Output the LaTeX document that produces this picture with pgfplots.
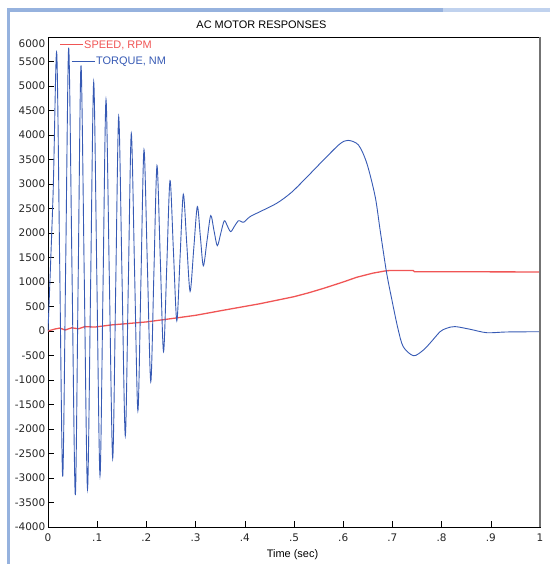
\documentclass[border=0pt]{standalone}
\usepackage{fontspec}
\setmainfont{Liberation Sans}
\newfontfamily\numfont{DejaVu Sans}
\usepackage{pgfplots}
\pgfplotsset{compat=1.18}

\definecolor{torque}{RGB}{55,90,180}
\definecolor{speed}{RGB}{240,85,85}
\definecolor{winframe}{RGB}{150,178,222}
\definecolor{winframelight}{RGB}{192,210,238}

\newcommand{\lblfont}{\fontsize{11}{13}\selectfont}
\newcommand{\tickfont}{\numfont\fontsize{10.5}{12.5}\selectfont}

\begin{document}
\begin{tikzpicture}[x=1bp,y=1bp]
\path[use as bounding box] (-48,-37) rectangle (502,527);
% window frame around the plot panel
\fill[winframe] (-40.5,-37) rectangle (-37.5,519);
\fill[winframe] (-40.5,515) rectangle (395,519);
\fill[winframelight] (395,515) rectangle (502,519);

\begin{axis}[
  at={(0,0)}, anchor=south west,
  scale only axis, width=492bp, height=490bp,
  xmin=0, xmax=1, ymin=-4000, ymax=6000,
  xtick={0,0.1,0.2,0.3,0.4,0.5,0.6,0.7,0.8,0.9,1},
  xticklabels={0,.1,.2,.3,.4,.5,.6,.7,.8,.9,1},
  ytick={-4000,-3500,-3000,-2500,-2000,-1500,-1000,-500,0,500,1000,1500,2000,2500,3000,3500,4000,4500,5000,5500,6000},
  yticklabels={-4000,-3500,-3000,-2500,-2000,-1500,-1000,-500,0,500,1000,1500,2000,2500,3000,3500,4000,4500,5000,5500,{}},
  tick align=inside,
  xtick pos=bottom, ytick pos=left,
  major tick length=6bp,
  tick style={black, line width=0.6bp},
  axis line style={black, line width=0.8bp},
  ticklabel style={font=\tickfont, text=black!85},
  y tick label style={inner sep=2.5bp},
  x tick label style={yshift=-3bp},
  clip=true,
]
% rotor speed
\addplot[speed, line width=1.3bp, sharp plot] coordinates {
(0,0) (0.014,40) (0.024,60) (0.035,20) (0.048,65) (0.062,45) (0.075,90)
(0.095,80) (0.13,125) (0.16,150) (0.2,185) (0.23,225) (0.26,265) (0.3,320)
(0.36,430) (0.43,555) (0.5,700) (0.53,780) (0.56,870) (0.6,1000)
(0.627,1095) (0.66,1180) (0.685,1225) (0.695,1235) (0.742,1235)
(0.745,1210) (1.0,1205)
};
% electromagnetic torque
\addplot[torque, line width=0.9bp, smooth] coordinates {
(0,0) (0.0104,2820)
(0.0177,5680) (0.0238,1355) (0.0299,-2970) (0.0360,1405)
(0.0421,5780) (0.0488,1215) (0.0555,-3350) (0.0613,1035)
(0.0671,5420) (0.0737,1098) (0.0803,-3225) (0.0866,928)
(0.0929,5080) (0.0993,1063) (0.1057,-2955) (0.1118,883)
(0.1179,4720) (0.1247,1060) (0.1315,-2600) (0.1376,888)
(0.1437,4375) (0.1504,1118) (0.1571,-2140) (0.1632,945)
(0.1693,4030) (0.1760,1202) (0.1827,-1627) (0.1889,1037)
(0.1951,3700) (0.2020,1333) (0.2089,-1035) (0.2152,1170)
(0.2215,3375) (0.2282,1477) (0.2348,-422) (0.2414,1324)
(0.2480,3070) (0.2549,1640) (0.2618,210) (0.2684,1500)
(0.2750,2790) (0.2819,1800) (0.2888,810) (0.2962,1675)
(0.3035,2540) (0.3096,1935) (0.3157,1330) (0.3232,1843)
(0.3307,2355) (0.3374,2048) (0.3441,1741) (0.3512,1996)
(0.3583,2250) (0.3648,2139) (0.3713,2027) (0.3791,2139)
(0.3868,2250) (0.3924,2235) (0.3980,2220)
(0.4106,2333) (0.4309,2435) (0.4648,2606) (0.4950,2830)
(0.5300,3180) (0.5600,3490) (0.5930,3816) (0.6100,3890)
(0.6310,3796) (0.6480,3422) (0.6650,2741) (0.6750,2061)
(0.6880,1200) (0.6990,633) (0.7110,60) (0.7220,-320)
(0.7430,-505) (0.7630,-388) (0.7780,-230) (0.7970,-14)
(0.8100,55) (0.8270,90) (0.8580,35) (0.8920,-35)
(0.9320,-20) (1.0000,-15)
};
\end{axis}

% right edge of the plot box
\draw[black!55, line width=1.6bp] (492,0) -- (492,490);
% top tick label sits just inside the box
\node[anchor=east, font=\tickfont, text=black!85, inner sep=2.5bp] at (0,483) {6000};

% title and axis label
\node[anchor=base, font=\lblfont] at (213.5,498.7) {AC MOTOR RESPONSES};
\node[anchor=base, font=\lblfont] at (244.5,-30) {Time (sec)};

% legend
\draw[speed, line width=0.9bp] (12,482.7) -- (35.3,482.7);
\node[anchor=base west, inner sep=0pt, font=\lblfont, text=speed] at (36,478) {SPEED, RPM};
\draw[torque, line width=0.9bp] (23.7,466) -- (47,466);
\node[anchor=base west, inner sep=0pt, font=\lblfont, text=torque] at (48,462) {TORQUE, NM};
\end{tikzpicture}
\end{document}
